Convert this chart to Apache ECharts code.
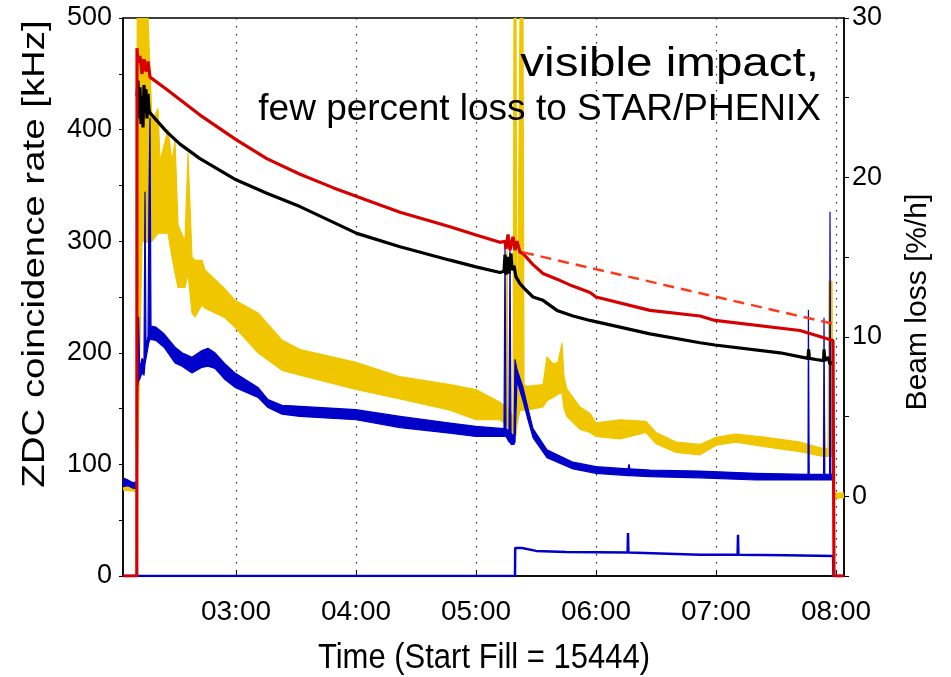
<!DOCTYPE html>
<html><head><meta charset="utf-8">
<script src="https://cdn.jsdelivr.net/npm/echarts@6/dist/echarts.min.js"></script>
<style>html,body{margin:0;padding:0;background:#fff}#c{width:951px;height:677px}</style>
</head><body><div id="c"></div>
<script>
// time in minutes after 00:00
const hourTicks = [180, 240, 300, 360, 420, 480];
const xMin = 123.5, xMax = 484;

// ---- beam loss band (right axis, %/h)
const yellowTime = [123.5,130.3,130.6,133,136,138,141,142,146,148,149.5,151,154.5,156,158,159.5,163,164.5,169.5,174.5,179.5,191,203,212,240,262,287,300,312,314,315,315.5,316,318.5,319,320,320.5,322,323.5,324,325.5,333.5,335.5,338.5,341,343,344,345.5,352,357,360,372,385,390,400,412,420,430,445,462,473.5,474,474.5,476,476.5,478,478.5,479,484];
const yellowLow = [0.4,0.3,0.5,16,15.9,16,16.5,16.5,16.5,15,14,13.1,13.1,14,11.5,11.25,12,11.8,11.5,11.2,10.6,9,7.9,7.6,6.7,6.1,5.4,4.8,4.8,4.6,4.5,4.5,4.2,3.8,3.8,3.8,4.5,5.4,5.4,5.4,5.4,5.6,6,6.2,6.4,6.5,5.5,5,4.2,4.0,3.75,3.6,4.0,3.3,2.75,2.6,3.2,3.4,3.1,2.8,2.5,2.5,2.5,2.5,2.5,2.5,2.5,-0.1,-0.1];
const yellowHigh = [0.9,0.8,30,30,30,23.5,24.3,21,23,21,22.3,17,16,21.5,15,14.8,14.8,14.2,13.6,13,12.3,11.5,9.8,9.2,8.4,7.5,7,6.7,5.9,5.7,5.5,15.4,5.5,5,30,30,6,30,30,7,6.9,7,8.75,8.3,8.4,9.6,7.5,6.7,5.6,5.2,4.6,4.8,4.7,4.0,3.4,3.25,3.7,3.9,3.7,3.4,3.0,8.1,3.0,3.0,13.5,13.5,3.0,0.2,0.2];

// ---- ZDC rate band (left axis, kHz)
const blueTime = [123.5,126,128,130.3,130.8,131.3,131.8,133,134,134.5,135,136,136.5,137,137.5,140,144,149.5,153,158,163,166,169.5,174.5,179.5,191,196,203,212,240,262,287,300,314,314.5,315,316.5,317,317.5,319,319.5,320.5,323.5,326,328.5,335.5,348.5,360,376,376.5,377,387,412,440,466,466.2,466.6,473.8,474,474.4,476.8,477,477.4,478.7,479,484];
const blueLow = [80,81,79,78,170,175,176,182,180,190,195,205,210,212,212,211,205,191,188,182,187,188,186,176,169,160,151,145,143,140,133,128,125,125,125,125,120,120,118,118,120,175,157,140,124,106,96,92,90,90,90,89,88,86,86,86,86,86,86,86,86,86,86,86,0,0];
const blueHigh = [88,86,84,84,180,232,185,195,192,344,205,215,344,410,224,223,217,205,200,196,202,204,200,190,182,169,158,153,152,149,143,137,134,132,295,132,130,295,128,125,194,185,169,150,132,113,102,98,96,100,96,95,94,92,91,238,91,91,231,91,91,326,91,91,0,0];

// ---- lower blue trace (left axis, kHz)
const blueBottom = [[123.5,0],[319.5,0],[319.6,25],[323,25],[330,22.5],[345,21.5],[375.8,21],[376,38.5],[376.2,21],[412,19],[430.8,19],[431,37],[431.2,19],[455,18.5],[478.5,18],[478.8,0],[484,0]];

// ---- black trace (left axis)
const blackTrace = [[130.5,430],[131,444],[131.5,410],[132,438],[132.5,405],[133,430],[133.5,402],[134,440],[134.5,415],[135,436],[135.5,410],[136,432],[136.5,418],[137,415],[145.4,398],[152,387],[162,374],[180,355],[195.4,343],[212,331],[240.4,307],[262,295],[287,283],[300,277],[312,272],[314,273],[314.5,288],[315,270],[316,286],[316.5,271],[317.5,289],[318,274],[319,278],[320,268],[322,262],[324,258],[328.5,250],[333.5,247],[340.5,238],[348.5,233],[357,229],[387,217],[412,209],[419.5,207],[452,200],[466,195],[466.3,203],[466.7,195],[470,194],[473.8,193],[474,203],[474.4,193],[476,196],[477,190],[478.7,192]];

// ---- red trace (left axis)
const redTrace = [[123.5,0],[130.4,0],[130.5,473],[131,460],[132,466],[133,450],[134,463],[135,452],[136,461],[137,447],[145.4,436],[162,413],[180,391],[195.4,374],[212,360],[228.5,348],[240.4,340],[262,326],[287,313],[300,305.5],[312,299],[314.5,300],[315,293],[316,306],[317,292],[318.5,304],[319.5,292],[320.5,300],[322,290],[323.5,289],[328.5,279],[333.5,271],[340.5,266],[348,260],[357,254],[360,250],[387,238],[412,233],[419.5,229],[462,220],[478.5,211],[479,0],[484,0]];

// ---- red dashed extrapolation
const redDashed = [[323.5,290],[478.5,226]];

const C_RED = '#d60000', C_BLACK = '#000000', C_BLUE = '#0000c8', C_YEL = '#efc600', C_DASH = '#ff3a1a';
const SANS = '"Liberation Sans", Arial, sans-serif';

function pad(n){ return (n < 10 ? '0' : '') + n; }

// band drawn as one filled polygon through the axis scales
function band(name, time, lo, hi, color, yAxisIndex) {
  return {
    name, type: 'custom', coordinateSystem: 'cartesian2d', yAxisIndex, clip: true, silent: true,
    data: [[time[0], lo[0]]],
    renderItem: function (params, api) {
      const pts = [];
      for (let i = 0; i < time.length; i++) pts.push(api.coord([time[i], hi[i]]));
      for (let i = time.length - 1; i >= 0; i--) pts.push(api.coord([time[i], lo[i]]));
      return { type: 'polygon', shape: { points: pts },
        style: { fill: color, stroke: color, lineWidth: 1.2, lineJoin: 'round' } };
    }
  };
}

const chart = echarts.init(document.getElementById('c'), null, { renderer: 'canvas' });
chart.setOption({
  animation: false,
  backgroundColor: '#fff',
  grid: { left: 123, right: 107, top: 18, bottom: 101, show: true, borderColor: '#000', borderWidth: 1.5, backgroundColor: 'transparent' },
  xAxis: {
    type: 'value', min: xMin, max: xMax,
    axisLine: { show: true, onZero: false, lineStyle: { color: '#000', width: 1.5 } },
    axisTick: { show: true, inside: true, length: 5, customValues: hourTicks, lineStyle: { color: '#000' } },
    axisLabel: { customValues: hourTicks, margin: 22, color: '#000', fontSize: 28, fontFamily: SANS,
      formatter: v => pad(Math.floor(v / 60)) + ':' + pad(Math.round(v % 60)) },
    splitLine: { show: true, lineStyle: { color: '#222', width: 1.2, type: [1.5, 6.5] } }
  },
  yAxis: [
    { type: 'value', min: 0, max: 500, interval: 50, position: 'left',
      axisLine: { show: true, lineStyle: { color: '#000', width: 1.5 } },
      axisTick: { show: true, length: 4, lineStyle: { color: '#000' } },
      axisLabel: { margin: 11, color: '#000', fontSize: 27, fontFamily: SANS,
        formatter: v => (v % 100 === 0 ? String(v) : '') },
      splitLine: { show: false } },
    { type: 'value', min: -5, max: 30, interval: 5, position: 'right',
      axisLine: { show: true, lineStyle: { color: '#000', width: 1.5 } },
      axisTick: { show: true, length: 5, lineStyle: { color: '#000' } },
      axisLabel: { margin: 8, color: '#000', fontSize: 27, fontFamily: SANS,
        formatter: v => (v >= 0 && v % 10 === 0 ? String(v) : '') },
      splitLine: { show: false } }
  ],
  series: [
    band('loss', yellowTime, yellowLow, yellowHigh, C_YEL, 1),
    band('zdc', blueTime, blueLow, blueHigh, C_BLUE, 0),
    { name: 'lowerBlue', type: 'line', data: blueBottom, symbol: 'none', lineStyle: { color: C_BLUE, width: 2.5 } },
    { name: 'black', type: 'line', data: blackTrace, symbol: 'none', lineStyle: { color: C_BLACK, width: 3.2 } },
    { name: 'red', type: 'line', data: redTrace, symbol: 'none', lineStyle: { color: C_RED, width: 3.2 } },
    { name: 'redDashed', type: 'line', data: redDashed, symbol: 'none', lineStyle: { color: C_DASH, width: 2.5, type: [11, 7] } }
  ],
  graphic: [
    { type: 'text', x: 819, y: 65, scaleX: 1.16, z: 100,
      style: { text: 'visible impact,', font: '41px ' + SANS, fill: '#000', align: 'right', verticalAlign: 'middle' } },
    { type: 'text', x: 821, y: 110, z: 100,
      style: { text: 'few percent loss to STAR/PHENIX', font: '37px ' + SANS, fill: '#000', align: 'right', verticalAlign: 'middle' } },
    { type: 'text', x: 35, y: 254, rotation: Math.PI / 2, scaleX: 1.2, z: 100,
      style: { text: 'ZDC coincidence rate [kHz]', font: '32px ' + SANS, fill: '#000', align: 'center', verticalAlign: 'middle' } },
    { type: 'text', x: 918, y: 302, rotation: Math.PI / 2, z: 100,
      style: { text: 'Beam loss [%/h]', font: '30px ' + SANS, fill: '#000', align: 'center', verticalAlign: 'middle' } },
    { type: 'text', x: 484, y: 658, scaleY: 1.12, z: 100,
      style: { text: 'Time (Start Fill = 15444)', font: '31px ' + SANS, fill: '#000', align: 'center', verticalAlign: 'middle' } }
  ]
});
</script>
</body></html>
